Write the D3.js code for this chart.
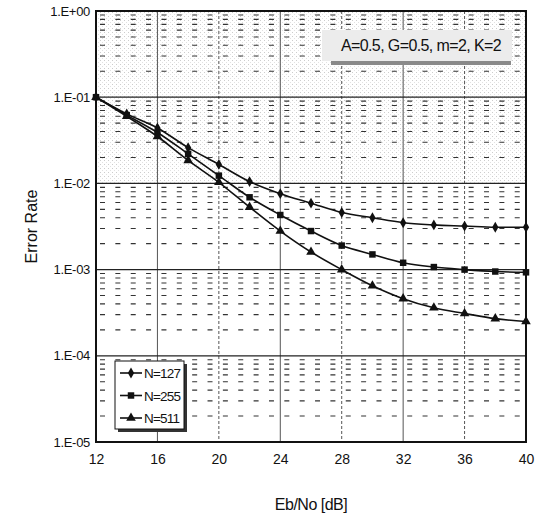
<!DOCTYPE html>
<html>
<head>
<meta charset="utf-8">
<script src="https://cdn.jsdelivr.net/npm/d3@7"></script>
<style>
  body { margin: 0; background: #fff; }
  text { font-family: "Liberation Sans", Arial, sans-serif; fill: #111; }
</style>
</head>
<body>
<svg id="chart" width="547" height="516"></svg>
<script>
// Eb/No [dB]
const ebno = [12, 14, 16, 18, 20, 22, 24, 26, 28, 30, 32, 34, 36, 38, 40];
const n127 = [0.1, 0.064, 0.044, 0.026, 0.0166, 0.0105, 0.0076, 0.0059, 0.0046, 0.0040, 0.0035, 0.0033, 0.0032, 0.0031, 0.0031];
const n255 = [0.1, 0.062, 0.039, 0.022, 0.0123, 0.0069, 0.0043, 0.0028, 0.0019, 0.0015, 0.0012, 0.00107, 0.0010, 0.00095, 0.00093];
const n511 = [0.1, 0.060, 0.035, 0.0185, 0.0103, 0.0053, 0.0028, 0.0016, 0.0010, 0.00065, 0.00046, 0.00036, 0.00031, 0.00027, 0.00025];
const seriesNames = ["N=127", "N=255", "N=511"];
const xTicks = [12, 16, 20, 24, 28, 32, 36, 40];
const yTicks = [1, 0.1, 0.01, 0.001, 0.0001, 0.00001];
const yTickLabels = ["1.E+00", "1.E-01", "1.E-02", "1.E-03", "1.E-04", "1.E-05"];
const note = "A=0.5, G=0.5, m=2, K=2";

const svg = d3.select("#chart");
const margin = {left: 96, right: 21, top: 11, bottom: 74};
const W = 547, H = 516;

const x = d3.scaleLinear().domain([12, 40]).range([margin.left, W - margin.right]);
const y = d3.scaleLog().domain([1e-5, 1]).range([H - margin.bottom, margin.top]);

// halftone look for the upper part
const defs = svg.append("defs");
const pat = defs.append("pattern").attr("id", "dots")
  .attr("width", 4).attr("height", 4).attr("patternUnits", "userSpaceOnUse");
pat.append("rect").attr("width", 1).attr("height", 1).attr("fill", "#9a9a9a");
pat.append("rect").attr("x", 2).attr("y", 2).attr("width", 1).attr("height", 1).attr("fill", "#c4c4c4");

svg.append("rect")
  .attr("x", x(12)).attr("y", y(1))
  .attr("width", x(40) - x(12)).attr("height", y(0.01) - y(1))
  .attr("fill", "url(#dots)").attr("opacity", 0.5);

// minor horizontal dashed lines
const minor = [];
for (let e = -5; e < 0; e++) {
  for (let k = 2; k <= 9; k++) minor.push(k * Math.pow(10, e));
}
svg.append("g").selectAll("line").data(minor).join("line")
  .attr("x1", x(12) + 4).attr("x2", x(40))
  .attr("y1", d => y(d)).attr("y2", d => y(d))
  .attr("stroke", "#333").attr("stroke-width", 1.1)
  .attr("stroke-dasharray", "5,10.36");

// vertical grid
svg.append("g").selectAll("line").data(xTicks.slice(1, -1)).join("line")
  .attr("x1", d => x(d)).attr("x2", d => x(d))
  .attr("y1", y(1)).attr("y2", y(1e-5))
  .attr("stroke", "#555").attr("stroke-width", 1)
  .attr("stroke-dasharray", (d, i) => i % 2 ? "3,2" : null);

// decade lines
svg.append("g").selectAll("line").data(yTicks.slice(1, -1)).join("line")
  .attr("x1", x(12)).attr("x2", x(40))
  .attr("y1", d => y(d)).attr("y2", d => y(d))
  .attr("stroke", "#222").attr("stroke-width", 1.3);

// frame
svg.append("rect")
  .attr("x", x(12)).attr("y", y(1))
  .attr("width", x(40) - x(12)).attr("height", y(1e-5) - y(1))
  .attr("fill", "none").attr("stroke", "#111").attr("stroke-width", 2);

// axes labels
const yAxis = d3.axisLeft(y).tickValues(yTicks)
  .tickFormat((d, i) => yTickLabels[i]).tickSize(0).tickPadding(6);
const gy = svg.append("g").attr("transform", `translate(${x(12)},0)`).call(yAxis);
gy.select(".domain").remove();
gy.selectAll("text").style("font-size", "13px").attr("letter-spacing", "-0.3px");

const xAxis = d3.axisBottom(x).tickValues(xTicks).tickSize(0).tickPadding(12);
const gx = svg.append("g").attr("transform", `translate(0,${y(1e-5)})`).call(xAxis);
gx.select(".domain").remove();
gx.selectAll("text").style("font-size", "14px");

svg.append("text").attr("x", 311).attr("y", 510)
  .attr("text-anchor", "middle").style("font-size", "16px")
  .attr("letter-spacing", "-0.5px").text("Eb/No [dB]");
svg.append("text")
  .attr("transform", `translate(37,${(y(1) + y(1e-5)) / 2}) rotate(-90)`)
  .attr("text-anchor", "middle").style("font-size", "16px").text("Error Rate");

// annotation box
svg.append("rect").attr("x", 331).attr("y", 61).attr("width", 180).attr("height", 4).attr("fill", "#8a8a8a");
svg.append("rect").attr("x", 322).attr("y", 30).attr("width", 190).attr("height", 31).attr("fill", "#ececec");
svg.append("text").attr("x", 421).attr("y", 51).attr("text-anchor", "middle")
  .style("font-size", "16px").attr("letter-spacing", "-0.6px").text(note);

// series
const allSeries = [n127, n255, n511];
const markers = [d3.symbolDiamond, d3.symbolSquare, d3.symbolTriangle];
const sizes = [34, 42, 40];
const line = d3.line().x((d, i) => x(ebno[i])).y(d => y(d)).curve(d3.curveMonotoneX);

allSeries.forEach((vals, s) => {
  svg.append("path").datum(vals).attr("d", line)
    .attr("fill", "none").attr("stroke", "#111").attr("stroke-width", 1.6);
  svg.append("g").selectAll("path").data(vals).join("path")
    .attr("transform", (d, i) => `translate(${x(ebno[i])},${y(d)})`)
    .attr("d", d3.symbol().type(markers[s]).size(sizes[s]))
    .attr("fill", "#111");
});

// legend
const lg = svg.append("g").attr("transform", "translate(115,361)");
lg.append("rect").attr("x", 3).attr("y", 3).attr("width", 69).attr("height", 68).attr("fill", "#333");
lg.append("rect").attr("width", 69).attr("height", 68).attr("fill", "#fff").attr("stroke", "#111").attr("stroke-width", 1);
seriesNames.forEach((name, s) => {
  const yy = 12 + s * 22.5;
  lg.append("line").attr("x1", 5).attr("x2", 27).attr("y1", yy).attr("y2", yy)
    .attr("stroke", "#111").attr("stroke-width", 1.6);
  lg.append("path").attr("transform", `translate(16,${yy})`)
    .attr("d", d3.symbol().type(markers[s]).size(sizes[s])).attr("fill", "#111");
  lg.append("text").attr("x", 29).attr("y", yy + 5).style("font-size", "13.5px")
    .attr("letter-spacing", "-0.8px").text(name);
});
</script>
</body>
</html>
